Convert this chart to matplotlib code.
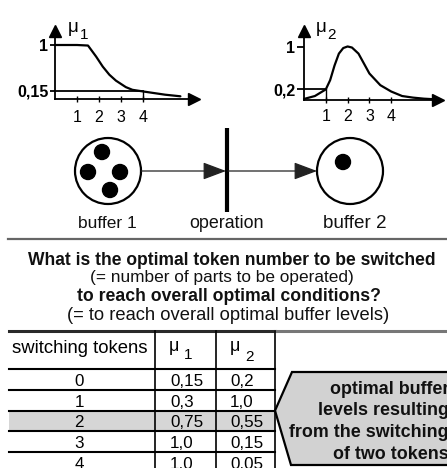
import matplotlib
matplotlib.use("Agg")
import matplotlib.pyplot as plt
from matplotlib.patches import Circle, Polygon, Rectangle

plt.rcParams['font.family'] = ['Liberation Sans', 'DejaVu Sans']

# ---------------- data ----------------
mu1_x = [0, 1, 1.5, 1.87, 2.17, 2.47, 2.77, 3.22, 3.52, 4.0, 4.5, 5.0, 5.7]
mu1_y = [1.0, 1.0, 0.99, 0.785, 0.6, 0.45, 0.34, 0.22, 0.17, 0.14, 0.11, 0.08, 0.05]
mu2_x = [0, 0.5, 1, 1.2, 1.4, 1.6, 1.8, 2.0, 2.2, 2.5, 3.0, 3.5, 4.0, 4.5, 5.0, 5.5, 6.15]
mu2_y = [0.02, 0.075, 0.2, 0.375, 0.65, 0.875, 0.98, 1.01, 0.99, 0.875, 0.5, 0.28, 0.16, 0.075, 0.045, 0.025, 0.01]
x_ticks = [1, 2, 3, 4]
mu1_ref = 0.15
mu2_ref = 0.2

tokens = [0, 1, 2, 3, 4]
mu1_tab = [0.15, 0.3, 0.75, 1.0, 1.0]
mu2_tab = [0.2, 1.0, 0.55, 0.15, 0.05]
highlight = 2

title_lines = ["What is the optimal token number to be switched",
               "(= number of parts to be operated)",
               "to reach overall optimal conditions?",
               "(= to reach overall optimal buffer levels)"]
callout_lines = ["optimal buffer", "levels resulting",
                 "from the switching", "of two tokens"]


def fmt(v):
    s = f"{v:.2f}".rstrip('0')
    if s.endswith('.'):
        s += '0'
    return s.replace('.', ',')


W, H = 447, 468
fig = plt.figure(figsize=(W / 100, H / 100), dpi=100)
renderer = fig.canvas.get_renderer()


def fit(t, w):
    bb = t.get_window_extent(renderer)
    t.set_fontsize(t.get_fontsize() * w / bb.width)
    return t


# overlay axes in pixel coordinates
ax0 = fig.add_axes([0, 0, 1, 1])
ax0.set_xlim(0, W)
ax0.set_ylim(H, 0)
ax0.axis('off')


def px_axes(l, t, r, b):
    a = fig.add_axes([l / W, 1 - b / H, (r - l) / W, (b - t) / H])
    a.set_facecolor('none')
    return a


def curve_axes(ox, oy, ux, uy, right, top, xs, ys, ref, ref_label, ref_to, tl_pad, ytick_len):
    a = px_axes(ox, top, right, oy)
    a.set_xlim(0, (right - ox) / ux)
    a.set_ylim(0, (oy - top) / uy)
    for s in ['top', 'right']:
        a.spines[s].set_visible(False)
    for s in ['left', 'bottom']:
        a.spines[s].set_linewidth(1.3)
    a.plot(1, 0, '>', ms=9, color='k', transform=a.get_yaxis_transform(), clip_on=False)
    a.plot(0, 1, '^', ms=8, color='k', transform=a.get_xaxis_transform(), clip_on=False)
    a.plot(xs, ys, color='k', lw=1.6, solid_capstyle='round', clip_on=False)
    a.plot([0, ref_to], [ref, ref], color='k', lw=1.3, clip_on=False)
    a.plot([ref_to, ref_to], [0, ref], color='k', lw=1.0, clip_on=False)
    a.set_xticks(x_ticks)
    a.set_xticklabels([str(k) for k in x_ticks])
    a.tick_params(axis='x', direction='inout', length=4.5, width=1.0,
                  labelsize=11.5, pad=tl_pad)
    a.set_yticks([ref, 1])
    a.set_yticklabels([ref_label, '1'])
    a.tick_params(axis='y', direction='out', length=ytick_len, width=1.3,
                  labelsize=11.5, pad=1.2)
    for lab in a.get_yticklabels():
        lab.set_fontweight('bold')
    return a


ax1 = curve_axes(55, 99, 22, 54, 194, 30.5, mu1_x, mu1_y, mu1_ref, fmt(mu1_ref), 4, 6.0, 3.6)
ax2 = curve_axes(304, 100, 21.8, 53, 437.75, 30.5, mu2_x, mu2_y, mu2_ref, fmt(mu2_ref), 1, 4.0, 5.0)

# mu labels over the plots
ax0.text(73, 27, "μ", fontsize=13.5, ha='center', va='center')
ax0.text(84, 35, "1", fontsize=11, ha='center', va='center')
ax0.text(321, 27, "μ", fontsize=13.5, ha='center', va='center')
ax0.text(332, 35, "2", fontsize=11, ha='center', va='center')

# ---------------- Petri net ----------------
ax0.add_patch(Circle((108, 171), 33, fill=False, lw=1.6, ec='k'))
for (cx, cy) in [(102, 152), (88, 172), (120, 172), (110, 190)]:
    ax0.add_patch(Circle((cx, cy), 7.5, color='k'))
ax0.add_patch(Circle((350, 171), 33, fill=False, lw=1.6, ec='k'))
ax0.add_patch(Circle((343, 162), 7.5, color='k'))

ax0.plot([227, 227], [128, 212], color='k', lw=3.0, solid_capstyle='butt')
ax0.annotate('', xy=(226, 171), xytext=(141, 171),
             arrowprops=dict(arrowstyle='-|>,head_length=1.2,head_width=0.45',
                             mutation_scale=12, lw=0.9, color='#222',
                             shrinkA=0, shrinkB=0))
ax0.annotate('', xy=(317, 171), xytext=(228, 171),
             arrowprops=dict(arrowstyle='-|>,head_length=1.2,head_width=0.45',
                             mutation_scale=12, lw=0.9, color='#222',
                             shrinkA=0, shrinkB=0))

for txt, cx, w in [("buffer 1", 107, 59), ("operation", 227, 75), ("buffer 2", 355, 64)]:
    fit(ax0.text(cx, 228, txt, fontsize=12, ha='center', va='baseline', color='#111'), w)

ax0.plot([8, 447], [239, 239], color='#666', lw=1.6)

# ---------------- question text ----------------
specs = [(232, 265, 406, 'bold'), (222, 282, 265, 'normal'),
         (229, 301, 302, 'bold'), (228, 320, 323, 'normal')]
for line, (cx, by, w, fw) in zip(title_lines, specs):
    fit(ax0.text(cx, by, line, fontsize=12, ha='center', va='baseline',
                 fontweight=fw, color='#111'), w)

# ---------------- table ----------------
top_y = 331
head_bot = 369
row_h = 20.8
col_x = [9, 155, 216, 275]

ax0.add_patch(Rectangle((col_x[0], head_bot + highlight * row_h), col_x[3] - col_x[0], row_h,
                        facecolor='#d6d6d6', edgecolor='none'))
ax0.plot([9, 275], [top_y, top_y], color='#2a2a2a', lw=2.2)
ax0.plot([275, 447], [top_y, top_y], color='#777', lw=2.2)
for xv in col_x[1:]:
    ax0.plot([xv, xv], [top_y, 480], color='k', lw=1.2)
for i in range(len(tokens) + 1):
    yv = head_bot + i * row_h
    ax0.plot([col_x[0], col_x[3]], [yv, yv], color='k', lw=1.5)

fit(ax0.text(80, 353, "switching tokens", fontsize=12, ha='center', va='baseline'), 136)
ax0.text(174, 351, "μ", fontsize=13, ha='center', va='baseline')
ax0.text(188, 359, "1", fontsize=11, ha='center', va='baseline')
ax0.text(235, 351, "μ", fontsize=13, ha='center', va='baseline')
ax0.text(250, 361, "2", fontsize=11, ha='center', va='baseline')

probe = ax0.text(0, -50, "0,75", fontsize=12)
fit(probe, 33)
val_fs = probe.get_fontsize()
probe.remove()
for i, (tk, a, b) in enumerate(zip(tokens, mu1_tab, mu2_tab)):
    by = head_bot + (i + 1) * row_h - 4
    ax0.text(79, by, str(tk), fontsize=val_fs, ha='center', va='baseline')
    ax0.text(170, by, fmt(a), fontsize=val_fs, ha='left', va='baseline')
    ax0.text(230, by, fmt(b), fontsize=val_fs, ha='left', va='baseline')

# ---------------- callout ----------------
tip_y = head_bot + 2 * row_h
ax0.add_patch(Polygon([(275, tip_y), (292, 372), (470, 372), (470, 465), (291, 465)],
                      closed=True, facecolor='#d2d2d2', edgecolor='k', lw=1.6))
probe = ax0.text(0, -50, callout_lines[2], fontsize=12, fontweight='bold')
fit(probe, 158)
co_fs = probe.get_fontsize()
probe.remove()
for line, by in zip(callout_lines, [394, 415, 437, 459]):
    ax0.text(449, by, line, fontsize=co_fs, fontweight='bold', ha='right', va='baseline', color='#111')

fig.savefig("out.png", dpi=100)
